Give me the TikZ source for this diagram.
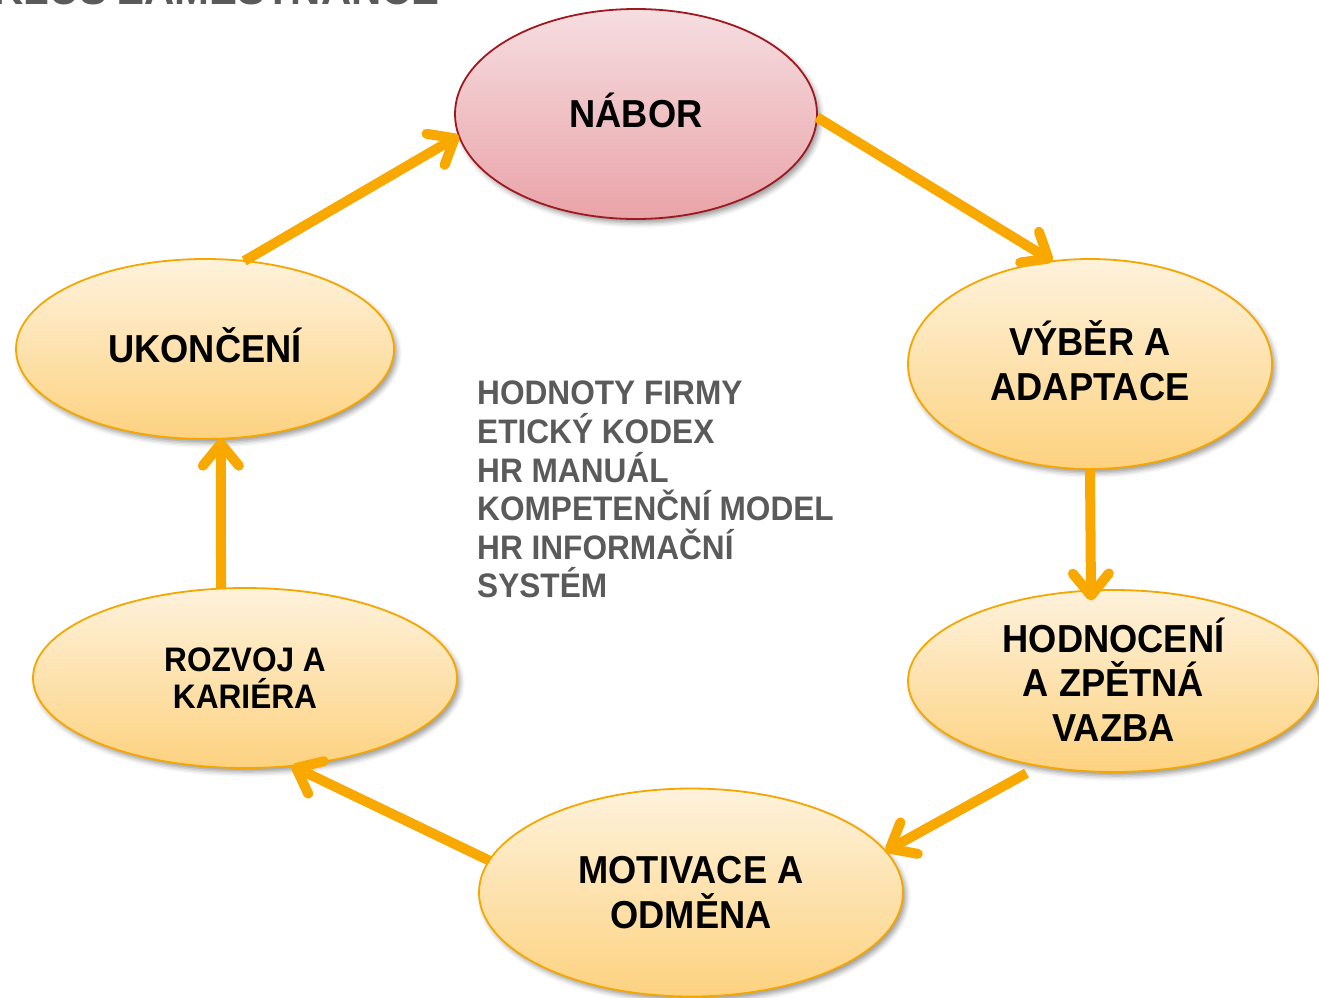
\documentclass[tikz,border=0pt]{standalone}
\usepackage{fontspec}
\setmainfont{Liberation Sans}[FakeStretch=0.93]
\usetikzlibrary{shapes.geometric,arrows.meta,shadows.blur}
\definecolor{arr}{HTML}{F9A800}
\definecolor{obord}{HTML}{F5A700}
\definecolor{otop}{HTML}{FEF2DC}
\definecolor{obot}{HTML}{FDD280}
\definecolor{ptop}{HTML}{F6DEE1}
\definecolor{pbot}{HTML}{E9A3A8}
\definecolor{pbord}{HTML}{9E1A20}
\definecolor{txtgray}{HTML}{5A5A5A}
\begin{document}
\begin{tikzpicture}[x=1pt,y=-1pt,
  base/.style={ellipse, inner sep=0pt, outer sep=0pt, line width=1.8pt, align=center,
    text depth=7pt,
    font=\fontsize{39}{44.5}\selectfont\bfseries,
    blur shadow={shadow xshift=3pt, shadow yshift=-4pt, shadow blur radius=5pt, shadow opacity=40}},
  stage/.style={base, draw=obord, top color=otop, bottom color=obot},
  pinkstage/.style={base, draw=pbord, top color=ptop, bottom color=pbot},
  flow/.style={draw=arr, line width=10pt, -{Straight Barb[length=22pt, width=36pt, round]},
    preaction={draw=black, opacity=0.18, transform canvas={shift={(2pt,-3pt)}}}},
  graytext/.style={text=txtgray, inner sep=0pt, align=left}
]
\useasboundingbox (0,0) rectangle (1319,997);
\clip (0,0) rectangle (1319,997);

\node[graytext, anchor=base east, font=\fontsize{45}{50}\selectfont\bfseries] (title) at (440,4) {CYKLUS ZAMĚSTNANCE};

\node[pinkstage, minimum width=362pt, minimum height=210pt] (nabor) at (636,114) {NÁBOR};
\node[stage, minimum width=378pt, minimum height=180pt] (ukonceni) at (205,349) {UKONČENÍ};
\node[stage, minimum width=364pt, minimum height=210pt] (vyber) at (1090,364) {VÝBĚR A\\ADAPTACE};
\node[stage, minimum width=411pt, minimum height=182pt, text depth=3pt] (hodnoceni) at (1113.5,681) {HODNOCENÍ\\A ZPĚTNÁ\\VAZBA};
\node[stage, minimum width=424pt, minimum height=180pt, text depth=0pt, font=\fontsize{34}{37}\selectfont\bfseries] (rozvoj) at (245,678) {ROZVOJ A\\KARIÉRA};
\node[stage, minimum width=424pt, minimum height=208pt, text depth=0pt] (motivace) at (691,892.5) {MOTIVACE A\\ODMĚNA};

\node[graytext, anchor=north west, font=\fontsize{34}{38.6}\selectfont\bfseries] (values) at (477,381)
  {HODNOTY FIRMY\\ETICKÝ KODEX\\HR MANUÁL\\KOMPETENČNÍ MODEL\\HR INFORMAČNÍ\\SYSTÉM};

\draw[flow] (nabor.-1) -- (vyber.110);
\draw[flow, shorten >=-10pt] (vyber.south) -- (hodnoceni.104.6);
\draw[flow, shorten <=15pt] (hodnoceni.229.5) -- (motivace.12.5);
\draw[flow] (motivace.171.5) -- (rozvoj.-62.9);
\draw[flow] (rozvoj.105.6) -- (ukonceni.-80.5);
\draw[flow] (ukonceni.66.7) -- (nabor.187.8);
\end{tikzpicture}
\end{document}
